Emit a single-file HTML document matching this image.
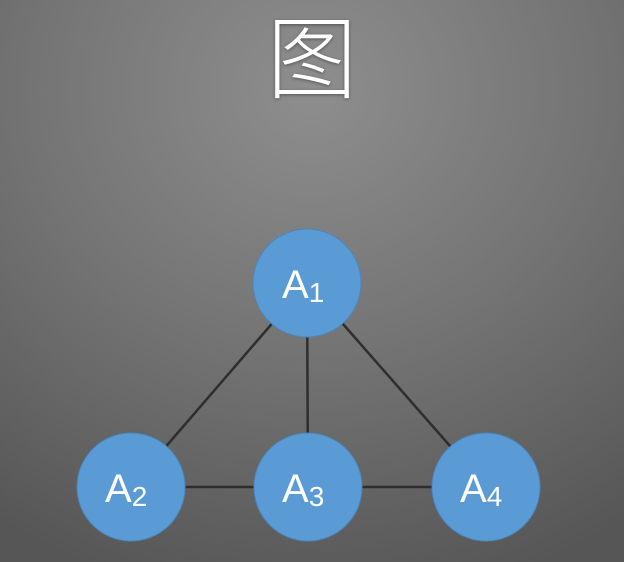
<!DOCTYPE html>
<html><head><meta charset="utf-8"><style>
html,body{margin:0;padding:0}
body{width:624px;height:562px;overflow:hidden;background:radial-gradient(ellipse 560px 520px at 312px 90px,#8e8e8e 0%,#747474 50%,#565656 100%);position:relative;font-family:"Liberation Sans","Noto Sans CJK SC",sans-serif}
.t{position:absolute;left:252px;top:2px;width:120px;text-align:center;font-size:90px;line-height:100px;color:#fff;font-family:"Noto Sans CJK SC",sans-serif;font-weight:300;text-shadow:0 1px 3px rgba(0,0,0,.4)}
</style></head><body>
<div class="t">图</div>
<svg width="624" height="562" style="position:absolute;left:0;top:0">
<g stroke="#2e2e2e" stroke-width="2.5">
<line x1="307" y1="283" x2="131" y2="487"/>
<line x1="307" y1="283" x2="308" y2="487"/>
<line x1="307" y1="283" x2="486" y2="487"/>
<line x1="131" y1="487" x2="486" y2="487"/>
</g>
<g fill="#5b9bd5" stroke="#4a86bd" stroke-width="1">
<circle cx="307" cy="283" r="54"/>
<circle cx="131" cy="487" r="54"/>
<circle cx="308" cy="487" r="54"/>
<circle cx="486" cy="487" r="54"/>
</g>
<g fill="#fff" font-family="Liberation Sans,sans-serif" font-size="40">
<text x="282" y="298">A<tspan font-size="28" dy="4">1</tspan></text>
<text x="105" y="502">A<tspan font-size="28" dy="4">2</tspan></text>
<text x="282" y="502">A<tspan font-size="28" dy="4">3</tspan></text>
<text x="460" y="502">A<tspan font-size="28" dy="4">4</tspan></text>
</g>
</svg>
</body></html>
